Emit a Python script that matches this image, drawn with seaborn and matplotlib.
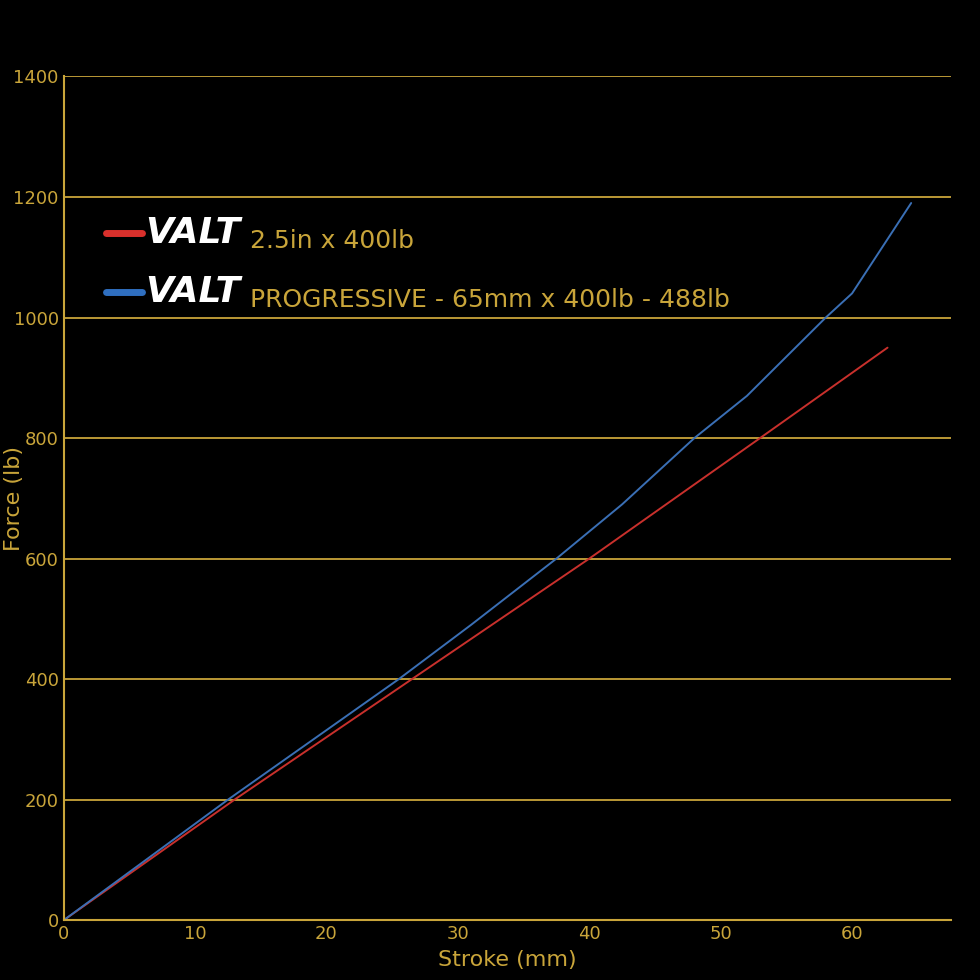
import matplotlib
matplotlib.use("Agg")
import matplotlib.pyplot as plt
import seaborn as sns
import pandas as pd

gold = "#c9a53a"

red_x = [0, 13, 26.5, 40, 53, 62.7]
red_y = [0, 200, 400, 600, 800, 950]
blue_x = [0, 12.5, 25.5, 31, 37.5, 42.5, 48, 52, 58, 60, 64.5]
blue_y = [0, 200, 400, 490, 600, 690, 800, 870, 1000, 1040, 1190]

sns.set_style("dark", {"axes.facecolor": "black", "figure.facecolor": "black"})
fig = plt.figure(figsize=(9.8, 9.8), dpi=100)
ax = fig.add_axes([0.065, 0.061, 0.905, 0.861])

red = pd.DataFrame({"x": red_x, "y": red_y})
blue = pd.DataFrame({"x": blue_x, "y": blue_y})
sns.lineplot(data=red, x="x", y="y", ax=ax, color="#c8302c", linewidth=1.4)
sns.lineplot(data=blue, x="x", y="y", ax=ax, color="#3a6fb5", linewidth=1.4)

ax.set_xlim(0, 67.5)
ax.set_ylim(0, 1400)
ax.set_xticks([0, 10, 20, 30, 40, 50, 60])
ax.set_yticks(range(0, 1401, 200))
ax.grid(False)
for yv in range(200, 1401, 200):
    ax.axhline(yv, color=gold, linewidth=1.3, zorder=0)
for s in ["top", "right"]:
    ax.spines[s].set_visible(False)
for s in ["left", "bottom"]:
    ax.spines[s].set_color(gold)
    ax.spines[s].set_linewidth(1.5)
ax.tick_params(colors=gold, labelsize=13, length=5, direction="in")
ax.set_xlabel("Stroke (mm)", color=gold, fontsize=16)
ax.set_ylabel("Force (lb)", color=gold, fontsize=16)
ax.xaxis.set_label_coords(0.5, -0.035)
ax.yaxis.set_label_coords(-0.045, 0.5)

# legend drawn by hand
for yy, col, txt in [(0.815, "#d9302c", "2.5in x 400lb"),
                     (0.745, "#2f6fc0", "PROGRESSIVE - 65mm x 400lb - 488lb")]:
    ax.plot([0.048, 0.088], [yy, yy], transform=ax.transAxes, color=col, linewidth=5)
    ax.text(0.092, yy, "VALT", transform=ax.transAxes, color="white", fontsize=26,
            fontweight="bold", fontstyle="italic", va="center")
    ax.text(0.21, yy - 0.01, txt, transform=ax.transAxes, color=gold, fontsize=18, va="center")

fig.savefig("out.png", dpi=100, facecolor="black")
